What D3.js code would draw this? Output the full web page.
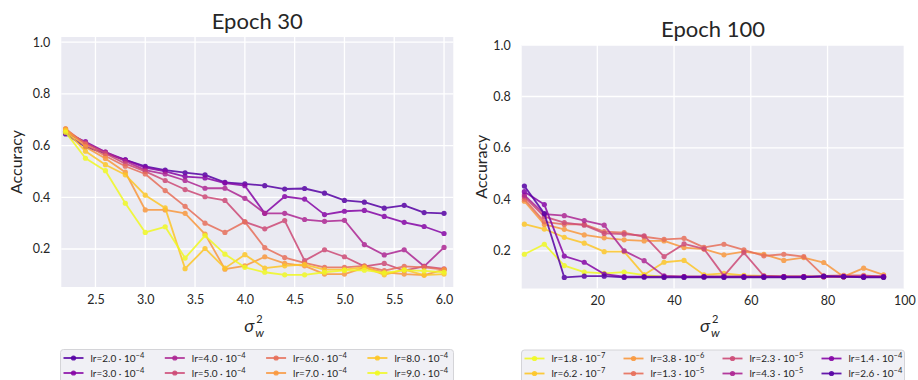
<!DOCTYPE html>
<html>
<head>
<meta charset="utf-8">
<script src="https://cdn.jsdelivr.net/npm/d3@7"></script>
<style>
  body{margin:0;background:#fff;}
  svg{font-family:Lato,"Open Sans","DejaVu Sans",sans-serif;}
</style>
</head>
<body>
<svg id="chart" width="918" height="380"></svg>
<script>
"use strict";
//----------------------------------------
//Data

//Epoch 30: x = sigma_w^2
var sigma30 = [2.2,2.4,2.6,2.8,3.0,3.2,3.4,3.6,3.8,4.0,4.2,4.4,4.6,4.8,5.0,5.2,5.4,5.6,5.8,6.0];
var lrText30 = ["2.0","3.0","4.0","5.0","6.0","7.0","8.0","9.0"];
var lrExp30 = ["−4","−4","−4","−4","−4","−4","−4","−4"];
var acc30_lr20 = [0.645,0.595,0.570,0.545,0.520,0.505,0.495,0.487,0.458,0.452,0.445,0.432,0.434,0.416,0.388,0.381,0.358,0.369,0.341,0.338];
var acc30_lr30 = [0.650,0.615,0.575,0.545,0.515,0.500,0.480,0.475,0.455,0.445,0.338,0.403,0.393,0.333,0.346,0.349,0.326,0.303,0.287,0.260];
var acc30_lr40 = [0.655,0.610,0.575,0.540,0.505,0.490,0.465,0.435,0.435,0.396,0.338,0.338,0.314,0.307,0.311,0.217,0.177,0.197,0.133,0.206];
var acc30_lr50 = [0.660,0.610,0.570,0.530,0.500,0.465,0.430,0.402,0.388,0.305,0.278,0.310,0.155,0.197,0.170,0.133,0.144,0.116,0.133,0.123];
var acc30_lr60 = [0.665,0.605,0.560,0.520,0.490,0.426,0.365,0.300,0.264,0.305,0.205,0.167,0.146,0.129,0.129,0.135,0.116,0.133,0.129,0.120];
var acc30_lr70 = [0.665,0.595,0.550,0.497,0.351,0.351,0.338,0.258,0.122,0.135,0.170,0.144,0.135,0.103,0.103,0.128,0.110,0.103,0.099,0.120];
var acc30_lr80 = [0.660,0.578,0.526,0.487,0.408,0.359,0.124,0.202,0.126,0.178,0.126,0.135,0.140,0.120,0.120,0.130,0.100,0.120,0.099,0.103];
var acc30_lr90 = [0.652,0.551,0.503,0.377,0.264,0.286,0.165,0.252,0.180,0.129,0.110,0.100,0.100,0.110,0.117,0.118,0.108,0.118,0.115,0.110];

//Epoch 100
var sigma100 = [1.0,6.2,11.4,16.6,21.8,27.0,32.2,37.4,42.6,47.8,53.0,58.2,63.4,68.6,73.8,79.0,84.2,89.4,94.6];
var lrText100 = ["1.8","6.2","3.8","1.3","2.3","4.3","1.4","2.6"];
var lrExp100 = ["−7","−7","−6","−5","−5","−5","−4","−4"];
var acc100_a = [0.187,0.226,0.143,0.118,0.113,0.118,0.106,0.100,0.100,0.100,0.102,0.100,0.100,0.100,0.100,0.100,0.100,0.100,0.100];
var acc100_b = [0.304,0.285,0.253,0.230,0.197,0.197,0.107,0.156,0.163,0.107,0.113,0.105,0.103,0.100,0.100,0.100,0.100,0.100,0.100];
var acc100_c = [0.393,0.303,0.284,0.262,0.251,0.243,0.239,0.239,0.213,0.207,0.185,0.197,0.187,0.163,0.174,0.155,0.100,0.133,0.107];
var acc100_d = [0.401,0.313,0.303,0.303,0.275,0.271,0.255,0.245,0.249,0.214,0.226,0.204,0.181,0.187,0.178,0.103,0.105,0.105,0.100];
var acc100_e = [0.410,0.333,0.310,0.300,0.268,0.265,0.259,0.178,0.227,0.208,0.103,0.193,0.103,0.100,0.100,0.100,0.100,0.100,0.100];
var acc100_f = [0.417,0.343,0.337,0.318,0.300,0.200,0.162,0.103,0.100,0.100,0.100,0.100,0.100,0.100,0.100,0.100,0.100,0.100,0.100];
var acc100_g = [0.430,0.380,0.180,0.156,0.110,0.100,0.100,0.100,0.100,0.100,0.100,0.100,0.100,0.100,0.100,0.100,0.100,0.100,0.100];
var acc100_h = [0.452,0.345,0.097,0.102,0.102,0.097,0.098,0.097,0.097,0.098,0.097,0.097,0.097,0.097,0.097,0.102,0.100,0.097,0.097];

var xTicks30 = [2.5,3.0,3.5,4.0,4.5,5.0,5.5,6.0];
var xTicks100 = [20,40,60,80,100];
var yTicks = [0.2,0.4,0.6,0.8,1.0];

//plasma palette positions
var plasmaPos = [0.15,0.27,0.39,0.51,0.635,0.76,0.88,1.0];
var colors30 = plasmaPos.map(function(t){ return d3.interpolatePlasma(t); });
var colors100 = colors30.slice().reverse();

var svg = d3.select("#chart");

//----------------------------------------
//Helper functions:

var drawPanel = function(cfg){
    var x = d3.scaleLinear().domain(cfg.xDomain).range([cfg.left, cfg.right]),
        y = d3.scaleLinear().domain(cfg.yDomain).range([cfg.bottom, cfg.top]);

    var g = svg.append("g");

    g.append("rect")
        .attr("x", cfg.left).attr("y", cfg.top)
        .attr("width", cfg.right - cfg.left)
        .attr("height", cfg.bottom - cfg.top)
        .style("fill", "#eaeaf2");

    //grid
    g.selectAll("line.gx").data(cfg.xTicks).enter().append("line")
        .attr("x1", d => x(d)).attr("x2", d => x(d))
        .attr("y1", cfg.top).attr("y2", cfg.bottom)
        .style("stroke", "#fff").style("stroke-width", 1.3);
    g.selectAll("line.gy").data(yTicks).enter().append("line")
        .attr("x1", cfg.left).attr("x2", cfg.right)
        .attr("y1", d => y(d)).attr("y2", d => y(d))
        .style("stroke", "#fff").style("stroke-width", 1.3);

    //axes (labels only, seaborn style)
    var xAxis = d3.axisBottom(x).tickValues(cfg.xTicks).tickSize(0).tickPadding(8).tickFormat(cfg.xFormat);
    var yAxis = d3.axisLeft(y).tickValues(yTicks).tickSize(0).tickPadding(11).tickFormat(d3.format(".1f"));
    var gx = g.append("g").attr("transform", "translate(0," + cfg.bottom + ")").call(xAxis);
    var gy = g.append("g").attr("transform", "translate(" + cfg.left + ",0)").call(yAxis);
    [gx, gy].forEach(function(a){
        a.select(".domain").remove();
        a.selectAll("text").style("font-size", "12.5px").style("fill", "#262626")
            .style("font-family", "Lato, sans-serif");
    });

    //lines
    var line = d3.line().x((d, i) => x(cfg.xs[i])).y(d => y(d));
    cfg.series.forEach(function(s, k){
        var sg = g.append("g").style("opacity", 0.85);
        sg.append("path").datum(s)
            .attr("d", line)
            .style("fill", "none")
            .style("stroke", cfg.colors[k])
            .style("stroke-width", 1.8)
            .style("stroke-linejoin", "round");
        sg.selectAll("circle").data(s).enter().append("circle")
            .attr("cx", (d, i) => x(cfg.xs[i]))
            .attr("cy", d => y(d))
            .attr("r", 2.6)
            .style("fill", cfg.colors[k]);
    });

    var cx = (cfg.left + cfg.right) / 2;
    //title
    g.append("text")
        .attr("x", cx).attr("y", cfg.top - 8)
        .style("text-anchor", "middle")
        .style("font-size", "22px")
        .style("fill", "#262626")
        .text(cfg.title);

    //y label
    g.append("text")
        .attr("transform", "translate(" + cfg.yLabelX + "," + ((cfg.top + cfg.bottom) / 2) + ") rotate(-90)")
        .style("text-anchor", "middle")
        .style("font-size", "16px")
        .style("fill", "#262626")
        .text("Accuracy");

    //x label: sigma_w^2
    var xl = g.append("g").attr("transform", "translate(" + cx + ",332)").style("fill", "#262626");
    xl.append("text").attr("x", -3).attr("y", 0).style("text-anchor", "end")
        .style("font-size", "18px").style("font-style", "italic").text("σ");
    xl.append("text").attr("x", -1).attr("y", -9).style("font-size", "11px").text("2");
    xl.append("text").attr("x", -2).attr("y", 5).style("font-size", "12px").style("font-style", "italic").text("w");

    //legend
    var lg = g.append("g");
    lg.append("rect")
        .attr("x", cfg.legend.x).attr("y", cfg.legend.y)
        .attr("width", cfg.legend.w).attr("height", 40)
        .attr("rx", 3).attr("ry", 3)
        .style("fill", "#f0f0f5").style("stroke", "#d4d4d8").style("stroke-width", 1);
    cfg.series.forEach(function(s, k){
        var col = Math.floor(k / 2), row = k % 2,
            lx = cfg.legend.x + 3 + col * cfg.legend.colW,
            ly = cfg.legend.y + 8.5 + row * 15;
        lg.append("line")
            .attr("x1", lx).attr("x2", lx + 20).attr("y1", ly).attr("y2", ly)
            .style("stroke", cfg.colors[k]).style("stroke-width", 1.8).style("opacity", 0.9);
        lg.append("circle").attr("cx", lx + 10).attr("cy", ly).attr("r", 2.6)
            .style("fill", cfg.colors[k]).style("opacity", 0.9);
        var t = lg.append("text").attr("x", lx + 27).attr("y", ly + 3.5)
            .style("font-size", "10px").style("fill", "#262626");
        t.append("tspan").text("lr=" + cfg.lrText[k] + " · 10");
        t.append("tspan").attr("dy", -4).style("font-size", "7.5px").text(cfg.lrExp[k]);
    });
};

drawPanel({
    left: 61.3, right: 453.3, top: 37, bottom: 287,
    xDomain: [2.157, 6.093], yDomain: [0.053, 1.02],
    xTicks: xTicks30, xFormat: d3.format(".1f"),
    xs: sigma30,
    series: [acc30_lr20, acc30_lr30, acc30_lr40, acc30_lr50, acc30_lr60, acc30_lr70, acc30_lr80, acc30_lr90],
    colors: colors30, lrText: lrText30, lrExp: lrExp30,
    title: "Epoch 30", yLabelX: 22,
    legend: {x: 60.5, y: 349.5, w: 393, colW: 101.3}
});

drawPanel({
    left: 521.7, right: 904.3, top: 45, bottom: 288.5,
    xDomain: [0.3, 100], yDomain: [0.054, 1.0],
    xTicks: xTicks100, xFormat: d3.format("d"),
    xs: sigma100,
    series: [acc100_a, acc100_b, acc100_c, acc100_d, acc100_e, acc100_f, acc100_g, acc100_h],
    colors: colors100, lrText: lrText100, lrExp: lrExp100,
    title: "Epoch 100", yLabelX: 487,
    legend: {x: 521.5, y: 350, w: 383, colW: 99}
});
</script>
</body>
</html>
